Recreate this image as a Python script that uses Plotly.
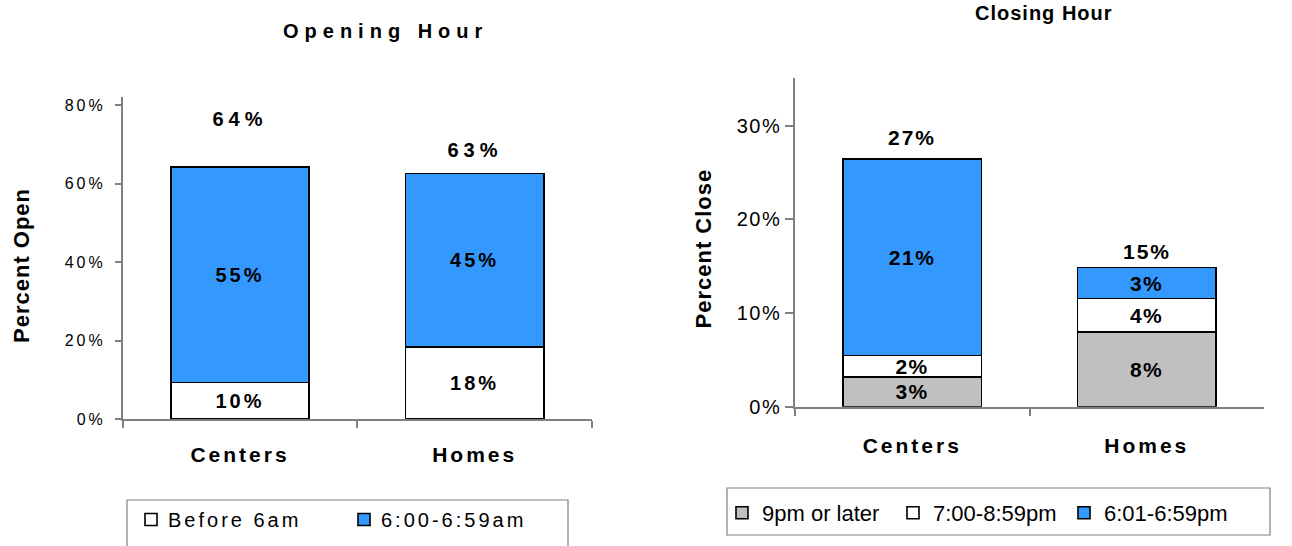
import plotly.graph_objects as go

# ---------------- data ----------------
categories = ["Centers", "Homes"]

open_names = ["Before 6am", "6:00-6:59am"]
open_before_6am = [9.35, 18.3]
open_600_659am = [54.85, 44.3]
open_before_6am_labels = ["10%", "18%"]
open_600_659am_labels = ["55%", "45%"]
open_total_labels = ["64%", "63%"]

close_names = ["9pm or later", "7:00-8:59pm", "6:01-6:59pm"]
close_9pm_later = [3.2, 8.0]
close_700_859pm = [2.25, 3.55]
close_601_659pm = [21.0, 3.3]
close_9pm_later_labels = ["3%", "8%"]
close_700_859pm_labels = ["2%", "4%"]
close_601_659pm_labels = ["21%", "3%"]
close_total_labels = ["27%", "15%"]

open_ticks = [0, 20, 40, 60, 80]
open_tick_labels = ["0%", "20%", "40%", "60%", "80%"]
close_ticks = [0, 10, 20, 30]
close_tick_labels = ["0%", "10%", "20%", "30%"]

# ---------------- style ----------------
W, H = 1292, 546
FONT = "Liberation Sans, Arial, Helvetica, sans-serif"
BLUE = "#3399FF"
GRAY = "#C0C0C0"
WHITE = "#FFFFFF"
AXIS = "#808080"


def px(x):
    return x / W


def py(y):
    return 1 - y / H


fig = go.Figure()


def add_bar(xa, ya, vals, labels, name, color, legend, size):
    fig.add_trace(go.Bar(
        x=categories, y=vals, name=name, xaxis=xa, yaxis=ya,
        marker=dict(color=color, line=dict(color="black", width=1.6)),
        text=labels, textposition="inside", insidetextanchor="middle",
        constraintext="none", textangle=0, cliponaxis=False,
        insidetextfont=dict(family=FONT, size=size, color="black", weight="bold"),
        legend=legend, hoverinfo="skip",
    ))


add_bar("x", "y", open_before_6am, open_before_6am_labels, open_names[0], WHITE, "legend", 20)
add_bar("x", "y", open_600_659am, open_600_659am_labels, open_names[1], BLUE, "legend", 20)
add_bar("x2", "y2", close_9pm_later, close_9pm_later_labels, close_names[0], GRAY, "legend2", 21)
add_bar("x2", "y2", close_700_859pm, close_700_859pm_labels, close_names[1], WHITE, "legend2", 21)
add_bar("x2", "y2", close_601_659pm, close_601_659pm_labels, close_names[2], BLUE, "legend2", 21)

annotations = []
# chart titles
annotations.append(dict(text="Opening Hour", x=px(386), y=py(31), xref="paper", yref="paper",
                        showarrow=False, xanchor="center", yanchor="middle",
                        font=dict(family=FONT, size=20, color="black", weight="bold")))
annotations.append(dict(text="Closing Hour", x=px(1044), y=py(13), xref="paper", yref="paper",
                        showarrow=False, xanchor="center", yanchor="middle",
                        font=dict(family=FONT, size=20, color="black", weight="bold")))
# axis titles
annotations.append(dict(text="Percent Open", x=px(21), y=py(266), xref="paper", yref="paper",
                        showarrow=False, textangle=-90, xanchor="center", yanchor="middle",
                        font=dict(family=FONT, size=22, color="black", weight="bold")))
annotations.append(dict(text="Percent Close", x=px(704), y=py(249), xref="paper", yref="paper",
                        showarrow=False, textangle=-90, xanchor="center", yanchor="middle",
                        font=dict(family=FONT, size=22, color="black", weight="bold")))
# total labels
open_total_shift = [35, 10]
for i, c in enumerate(categories):
    annotations.append(dict(text=open_total_labels[i], x=c, y=open_before_6am[i] + open_600_659am[i],
                            xref="x", yref="y", showarrow=False, yanchor="bottom",
                            yshift=open_total_shift[i],
                            font=dict(family=FONT, size=20, color="black", weight="bold")))
close_total_shift = [8, 3]
for i, c in enumerate(categories):
    tot = close_9pm_later[i] + close_700_859pm[i] + close_601_659pm[i]
    annotations.append(dict(text=close_total_labels[i], x=c, y=tot,
                            xref="x2", yref="y2", showarrow=False, yanchor="bottom",
                            yshift=close_total_shift[i],
                            font=dict(family=FONT, size=21, color="black", weight="bold")))

left_box = "M {a},{b} L {a},{c} L {d},{c} L {d},{b}".format(a=px(127), b=py(546), c=py(500), d=px(568))
shapes = [
    dict(type="path", xref="paper", yref="paper", path=left_box,
         line=dict(color=AXIS, width=1.2), layer="below"),
    dict(type="rect", xref="paper", yref="paper", x0=px(727), x1=px(1270), y0=py(535), y1=py(488),
         line=dict(color=AXIS, width=1.2), fillcolor="rgba(0,0,0,0)", layer="below"),
]

xcommon = dict(type="category", showline=True, linecolor=AXIS, linewidth=1.5, ticks="outside",
               tickson="boundaries", tickcolor=AXIS, tickwidth=1.5, showgrid=False, zeroline=False,
               tickfont=dict(family=FONT, size=21, color="black", weight="bold"))
ycommon = dict(showline=True, linecolor=AXIS, linewidth=1.5, ticks="outside", tickcolor=AXIS,
               tickwidth=1.5, showgrid=False, zeroline=False, tickmode="array")

fig.update_layout(
    width=W, height=H, margin=dict(l=0, r=0, t=0, b=0, pad=0, autoexpand=False),
    paper_bgcolor="white", plot_bgcolor="white",
    barmode="stack", bargap=0.41,
    font=dict(family=FONT, color="black"),
    xaxis=dict(domain=[px(122.7), px(592)], anchor="y", ticklen=7, ticklabelstandoff=16,
               automargin=False, **xcommon),
    yaxis=dict(domain=[py(419), py(97)], anchor="x", range=[0, 82.04], tickvals=open_ticks,
               ticktext=open_tick_labels, ticklen=6, ticklabelstandoff=6, automargin=False,
               tickfont=dict(family=FONT, size=16, color="black"), **ycommon),
    xaxis2=dict(domain=[px(795), px(1264)], anchor="y2", ticklen=8, ticklabelstandoff=19,
                automargin=False, **xcommon),
    yaxis2=dict(domain=[py(406.7), py(78)], anchor="x2", range=[0, 35.1], tickvals=close_ticks,
                ticktext=close_tick_labels, ticklen=8, ticklabelstandoff=0, automargin=False,
                tickfont=dict(family=FONT, size=20, color="black"), **ycommon),
    legend=dict(orientation="h", x=px(131), y=py(500), xanchor="left", yanchor="top",
                bgcolor="rgba(0,0,0,0)", borderwidth=0, traceorder="normal",
                entrywidth=168, entrywidthmode="pixels",
                font=dict(family=FONT, size=20, color="black")),
    legend2=dict(orientation="h", x=px(722), y=py(492), xanchor="left", yanchor="top",
                 bgcolor="rgba(0,0,0,0)", borderwidth=0, traceorder="normal",
                 entrywidth=126, entrywidthmode="pixels",
                 font=dict(family=FONT, size=22, color="black")),
    annotations=annotations, shapes=shapes, showlegend=True,
)

post = """
var s = document.createElement('style');
s.textContent = [
  'html,body{margin:0;padding:0;overflow:hidden}',
  '.xtick text{letter-spacing:3px}',
  '.x2tick text{letter-spacing:3px}',
  '.ytick text{letter-spacing:3px}',
  '.y2tick text{letter-spacing:1.5px}',
  '.subplot.xy .bartext{letter-spacing:3px}',
  '.subplot.x2y2 .bartext{letter-spacing:1.5px}',
  'g.legend .legendtext{letter-spacing:3px;transform:translateX(-3px)}',
  'g.legend2 .legendtext{letter-spacing:3.5px;transform:translateX(-6px)}',
  'g.annotation[data-index="0"] text{letter-spacing:6px}',
  'g.annotation[data-index="1"] text{letter-spacing:1px}',
  'g.annotation[data-index="2"] text{letter-spacing:1px}',
  'g.annotation[data-index="3"] text{letter-spacing:1px}',
  'g.annotation[data-index="4"] text{letter-spacing:5px}',
  'g.annotation[data-index="5"] text{letter-spacing:5px}',
  'g.annotation[data-index="6"] text{letter-spacing:2px}',
  'g.annotation[data-index="7"] text{letter-spacing:2px}'
].join('\\n');
document.head.appendChild(s);
document.body.style.margin = '0';
"""

fig.write_html("out.html", post_script=post, config={"displayModeBar": False})
